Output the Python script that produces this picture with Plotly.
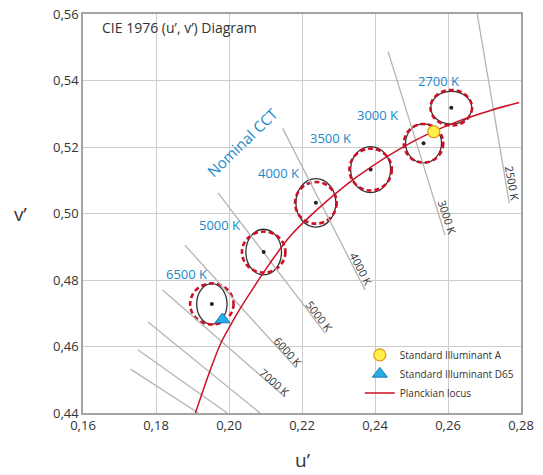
import plotly.graph_objects as go

# ---------------- data ----------------
# Planckian locus (u', v')
locus_u = [0.1908, 0.1946, 0.1976, 0.2000, 0.2030, 0.2066, 0.2110, 0.2168, 0.2246, 0.2354, 0.2500, 0.2620, 0.2720, 0.2795]
locus_v = [0.4400, 0.4521, 0.4606, 0.4656, 0.4713, 0.4775, 0.4847, 0.4932, 0.5016, 0.5113, 0.5214, 0.5274, 0.5311, 0.5334]

# Standard illuminants
illum_a = (0.2561, 0.5246)
illum_d65 = (0.1982, 0.4681)

# Nominal CCT ellipses: centre, black ellipse semi-axes, red dashed semi-axes
cct_names = ["2700 K", "3000 K", "3500 K", "4000 K", "5000 K", "6500 K"]
cct_u = [0.2609, 0.2533, 0.2388, 0.2238, 0.2095, 0.1953]
cct_v = [0.5318, 0.5211, 0.5132, 0.5032, 0.4884, 0.4728]
black_ru = [0.00562, 0.00493, 0.00548, 0.00548, 0.00488, 0.00416]
black_rv = [0.00490, 0.00586, 0.00692, 0.00728, 0.00686, 0.00610]
red_ru = [0.00570, 0.00540, 0.00580, 0.00570, 0.00595, 0.00595]
red_rv = [0.00535, 0.00580, 0.00630, 0.00626, 0.00617, 0.00617]
cct_label_u = [0.2573, 0.2407, 0.2278, 0.2136, 0.1973, 0.1883]
cct_label_v = [0.5400, 0.5295, 0.5226, 0.5123, 0.4964, 0.4819]

# Isotherm lines (start / end)
iso_names = ["2500 K", "3000 K", "4000 K", "5000 K", "6000 K", "7000 K", "", "", ""]
iso_u0 = [0.2680, 0.2436, 0.2147, 0.1970, 0.1879, 0.1818, 0.1778, 0.1750, 0.1730]
iso_v0 = [0.5600, 0.5487, 0.5256, 0.5062, 0.4905, 0.4770, 0.4674, 0.4590, 0.4532]
iso_u1 = [0.2768, 0.2592, 0.2373, 0.2263, 0.2184, 0.2153, 0.2085, 0.1995, 0.1916]
iso_v1 = [0.5031, 0.4935, 0.4770, 0.4641, 0.4535, 0.4449, 0.4400, 0.4400, 0.4400]
iso_label_u = [0.2777, 0.2599, 0.2364, 0.2249, 0.2162, 0.2126]
iso_label_v = [0.5091, 0.4989, 0.4833, 0.4691, 0.4586, 0.4492]
iso_label_angle = [80, 72, 63, 52, 48, 41]

x_ticks = [0.16, 0.18, 0.20, 0.22, 0.24, 0.26, 0.28]
y_ticks = [0.44, 0.46, 0.48, 0.50, 0.52, 0.54, 0.56]

FONT = "Open Sans"
RED = "#cc1126"
BLUE = "#1a88c9"
GRAY_LINE = "#b4b4b4"

fig = go.Figure()

# isotherm lines
for i in range(len(iso_u0)):
    fig.add_trace(go.Scatter(
        x=[iso_u0[i], iso_u1[i]], y=[iso_v0[i], iso_v1[i]],
        mode="lines", line=dict(color=GRAY_LINE, width=1.3),
        showlegend=False, hoverinfo="skip"))

# ellipse shapes
shapes = []
for i in range(len(cct_u)):
    shapes.append(dict(type="circle", xref="x", yref="y", layer="between",
                       x0=cct_u[i] - black_ru[i], x1=cct_u[i] + black_ru[i],
                       y0=cct_v[i] - black_rv[i], y1=cct_v[i] + black_rv[i],
                       line=dict(color="#333333", width=1.3)))
    shapes.append(dict(type="circle", xref="x", yref="y", layer="between",
                       x0=cct_u[i] - red_ru[i], x1=cct_u[i] + red_ru[i],
                       y0=cct_v[i] - red_rv[i], y1=cct_v[i] + red_rv[i],
                       line=dict(color=RED, width=2.6, dash="5px,3px")))

# centre dots
fig.add_trace(go.Scatter(x=cct_u, y=cct_v, mode="markers",
                         marker=dict(color="#222222", size=4),
                         showlegend=False, hoverinfo="skip"))

# Planckian locus
fig.add_trace(go.Scatter(x=locus_u, y=locus_v, mode="lines",
                         line=dict(color=RED, width=1.5, shape="spline"),
                         name="Planckian locus", legendrank=3))

# illuminants
fig.add_trace(go.Scatter(x=[illum_a[0]], y=[illum_a[1]], mode="markers",
                         marker=dict(symbol="circle", size=12, color="#fff04a",
                                     line=dict(color="#e29a1c", width=1.3)),
                         name="Standard Illuminant A", legendrank=1))
fig.add_trace(go.Scatter(x=[illum_d65[0]], y=[illum_d65[1]], mode="markers",
                         marker=dict(symbol="triangle-up", size=13, color="#22aee8",
                                     line=dict(color="#1578b8", width=1)),
                         name="Standard Illuminant D65", legendrank=2))

annotations = []
for i, name in enumerate(cct_names):
    annotations.append(dict(x=cct_label_u[i], y=cct_label_v[i], text=name,
                            showarrow=False, xref="x", yref="y",
                            font=dict(family=FONT, size=13, color=BLUE)))
for i in range(len(iso_label_u)):
    annotations.append(dict(x=iso_label_u[i], y=iso_label_v[i], text=iso_names[i],
                            showarrow=False, xref="x", yref="y",
                            textangle=iso_label_angle[i],
                            font=dict(family=FONT, size=11, color="#333333")))
annotations.append(dict(x=0.2037, y=0.5214, text="Nominal CCT", showarrow=False,
                        xref="x", yref="y", textangle=-44,
                        font=dict(family=FONT, size=15, color=BLUE)))
annotations.append(dict(x=0.1647, y=0.5559, text="CIE 1976 (u’, v’) Diagram",
                        showarrow=False, xref="x", yref="y", xanchor="left",
                        font=dict(family=FONT, size=14, color="#333333")))
annotations.append(dict(x=0.5, y=-0.118, text="u’", showarrow=False,
                        xref="paper", yref="paper", yanchor="middle",
                        font=dict(family=FONT, size=19, color="#333333")))
annotations.append(dict(x=-0.143, y=0.5, text="v’", showarrow=False,
                        xref="paper", yref="paper", xanchor="center",
                        font=dict(family=FONT, size=19, color="#333333")))

axis_common = dict(showgrid=True, gridcolor="#cdcdcd", gridwidth=1,
                   showline=True, linecolor="#a3a3a3", linewidth=1.5, mirror=True,
                   ticks="", zeroline=False, tickformat=".2f", automargin=False,
                   tickfont=dict(family=FONT, size=13, color="#333333"))

fig.update_layout(
    width=543, height=475,
    margin=dict(l=83, r=22, t=14, b=62, autoexpand=False),
    paper_bgcolor="white", plot_bgcolor="white",
    separators=", ",
    font=dict(family=FONT, color="#333333"),
    xaxis=dict(range=[0.16, 0.28], tickvals=x_ticks, **axis_common),
    yaxis=dict(range=[0.44, 0.56], tickvals=y_ticks, **axis_common),
    shapes=shapes,
    annotations=annotations,
    showlegend=True,
    hovermode=False,
    legend=dict(x=0.632, y=0.182, xanchor="left", yanchor="top",
                bgcolor="rgba(0,0,0,0)", borderwidth=0,
                font=dict(family=FONT, size=10, color="#333333"),
                tracegroupgap=0),
)

fig.write_html("out.html",
               config={"displayModeBar": False},
               post_script="document.body.style.margin='0';document.body.style.padding='0';")
